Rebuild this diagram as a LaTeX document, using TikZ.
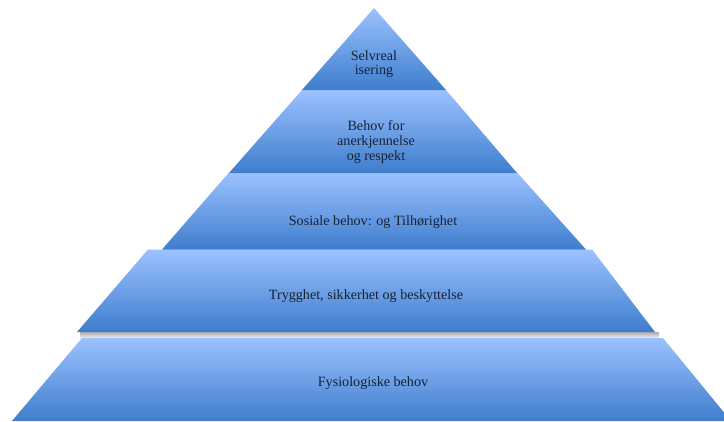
\documentclass[tikz,border=0pt]{standalone}
\usepackage{fontspec}
\setmainfont{Liberation Serif}
\definecolor{lvltop}{RGB}{156,194,255}
\definecolor{lvlbot}{RGB}{62,125,205}
\definecolor{lvltext}{RGB}{22,34,52}
\tikzset{every picture/.style={line width=0.75pt}}
\tikzset{
  level/.style={top color=lvltop, bottom color=lvlbot, draw=none},
  lbl/.style={inner sep=0.75pt, align=center, text=lvltext, font=\fontsize{10.6}{11}\selectfont},
}

\begin{document}
\begin{tikzpicture}[x=0.75pt,y=0.75pt,yscale=-1,xscale=1]
\useasboundingbox (0,0) rectangle (724,421);
\clip (0,0) rectangle (724,421);

%Shape: Shadow under level 4
\shade [top color=black!32, bottom color=black!4] (80,332) rectangle (659,338.5) ;
%Shape: Trapezoid level 5
\path [level] (82,338) -- (663,338) -- (731,421) -- (12,421) -- cycle ;
%Shape: Trapezoid level 4
\path [level] (148,249.5) -- (592,249.5) -- (655,332) -- (77,332) -- cycle ;
%Shape: Trapezoid level 3
\path [level] (229,172.5) -- (517,172.5) -- (586,249.5) -- (162,249.5) -- cycle ;
%Shape: Trapezoid level 2
\path [level] (302,90) -- (446,90) -- (517,173) -- (229,173) -- cycle ;
%Shape: Triangle level 1
\path [level] (374,8) -- (446,90) -- (302,90) -- cycle ;

% Text Node
\node [lbl] (selv) at (374,64) {Selvreal\\isering};
% Text Node
\node [lbl] (anerk) at (376,142) {Behov for\\anerkjennelse\\og respekt};
% Text Node
\node [lbl] (sosial) at (373,222) {Sosiale behov: og Tilhørighet};
% Text Node
\node [lbl] (trygg) at (366,296) {Trygghet, sikkerhet og beskyttelse};
% Text Node
\node [lbl] (fysio) at (373,383) {Fysiologiske behov};

\end{tikzpicture}
\end{document}
